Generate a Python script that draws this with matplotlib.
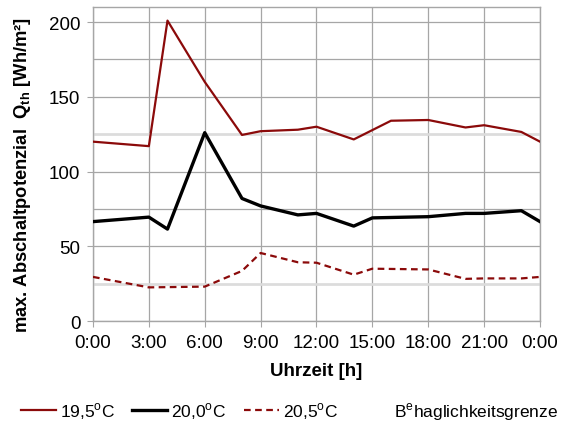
import matplotlib

matplotlib.use("Agg")
import matplotlib.pyplot as plt
from matplotlib.lines import Line2D
from matplotlib.ticker import MultipleLocator

plt.rcParams["font.family"] = ["Liberation Sans", "DejaVu Sans"]
plt.rcParams["mathtext.fontset"] = "custom"
plt.rcParams["mathtext.rm"] = "Liberation Sans"
plt.rcParams["mathtext.bf"] = "Liberation Sans:bold"

# hours of day and values
hours_195 = [0, 3, 4, 6, 8, 9, 11, 12, 14, 16, 18, 20, 21, 23, 24]
q_195 = [120, 117, 201, 160, 124.5, 127, 128, 130, 121.5, 134, 134.5, 129.5, 131, 126.5, 120]

hours_200 = [0, 3, 4, 6, 8, 9, 11, 12, 14, 15, 18, 20, 21, 23, 24]
q_200 = [66.5, 69.5, 61.5, 126, 82, 77, 71, 72, 63.5, 69, 69.8, 72, 72, 73.8, 66.5]

hours_205 = [0, 3, 6, 8, 9, 11, 12, 14, 15, 18, 20, 21, 23, 24]
q_205 = [29.5, 22.5, 23, 33.5, 45.5, 39.3, 39, 31, 35, 34.5, 28.2, 28.5, 28.5, 29.5]

comfort_limits = [125, 25]

xtick_hours = list(range(0, 25, 3))
xtick_labels = ["0:00", "3:00", "6:00", "9:00", "12:00", "15:00", "18:00", "21:00", "0:00"]

red = "#8B0A0A"

fig = plt.figure(figsize=(5.68, 4.27), dpi=100)
ax = fig.add_axes([0.1637, 0.2459, 0.787, 0.735])

for y in comfort_limits:
    ax.axhline(y, color="#dcdcdc", lw=1.9, zorder=1.5)

ax.plot(hours_195, q_195, color=red, lw=1.6, zorder=3)
ax.plot(hours_200, q_200, color="black", lw=2.4, zorder=3)
ax.plot(hours_205, q_205, color=red, lw=1.6, ls=(0, (3, 2)), zorder=3)

ax.set_xlim(0, 24)
ax.set_ylim(0, 210)
ax.set_xticks(xtick_hours)
ax.set_xticklabels(xtick_labels)
ax.yaxis.set_major_locator(MultipleLocator(50))
ax.yaxis.set_minor_locator(MultipleLocator(25))
ax.set_yticks([0, 50, 100, 150, 200])
ax.grid(True, which="both", color="#a6a6a6", lw=0.9, zorder=1)
ax.set_axisbelow(True)
ax.tick_params(axis="both", which="major", labelsize=13.5, length=4, color="#a6a6a6", pad=5)
ax.tick_params(axis="y", which="minor", length=0)
for s in ax.spines.values():
    s.set_color("#a6a6a6")
    s.set_linewidth(1.0)

ax.set_xlabel("Uhrzeit [h]", fontsize=13.5, fontweight="bold", labelpad=8)
ax.set_ylabel(r"max. Abschaltpotenzial  $\mathbf{Q_{th}}$ [Wh/m²]", fontsize=13.2,
              fontweight="bold")
ax.yaxis.set_label_coords(-0.135, 0.468)

handles = [
    Line2D([], [], color=red, lw=1.6),
    Line2D([], [], color="black", lw=2.4),
    Line2D([], [], color=red, lw=1.6, ls=(0, (3, 2))),
    Line2D([], [], color="white", lw=2),
]
labels = [r"19,5$^{\mathrm{o}}$C", r"20,0$^{\mathrm{o}}$C", r"20,5$^{\mathrm{o}}$C",
          r"B$^{\mathrm{e}}$haglichkeitsgrenze"]
fig.legend(handles, labels, loc="center", bbox_to_anchor=(0.51, 0.035), ncol=4,
           frameon=False, fontsize=12.5, handlelength=2.0, handletextpad=0.25,
           columnspacing=1.0)

fig.savefig("out.png", dpi=100)
